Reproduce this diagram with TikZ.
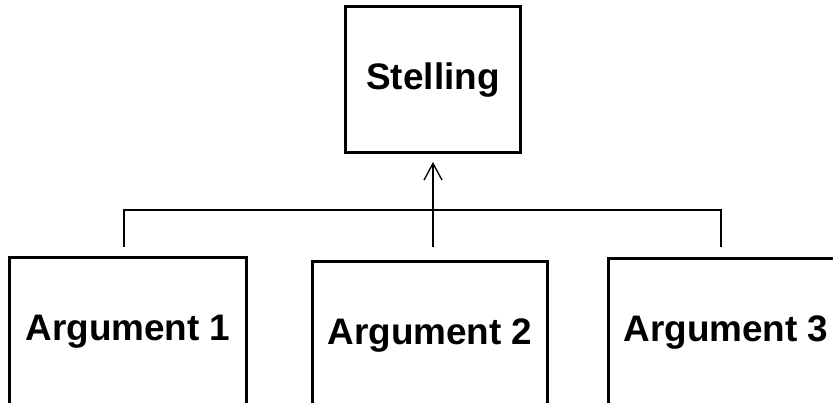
\documentclass[tikz,border=0pt]{standalone}
\usepackage{fontspec}
\setmainfont{Liberation Sans}
\usetikzlibrary{arrows.meta}
\tikzset{
  kader/.style={draw, line width=0.09cm, inner sep=0pt,
    font=\fontsize{31.5}{36}\selectfont\bfseries, align=center},
  lijn/.style={line width=0.04cm}
}
\begin{document}
\begin{tikzpicture}[x=0.03cm, y=-0.03cm]
                    \useasboundingbox (0,0) rectangle (833,403);
                    \clip (0,0) rectangle (833,403);
                    \node[kader, minimum width=5.22cm, minimum height=4.38cm] (stelling) at (433,80) {Stelling};

                    \node[kader, minimum width=7.08cm, minimum height=4.44cm] (arg1) at (128,332) {Argument 1};
                    \node[kader, minimum width=7.02cm, minimum height=4.44cm] (arg2) at (430,336) {Argument 2};
                    \node[kader, minimum width=7.08cm, minimum height=4.44cm] (arg3) at (726,333) {Argument 3};

                    \coordinate (top1) at (124,247);
                    \coordinate (top2) at (433,247);
                    \coordinate (top3) at (721,247);
                    \coordinate (pijl) at (433,162);
                    \draw[lijn] (top1) -- ++(0,-37) -| (top3);
                    \draw[lijn, -{Straight Barb[length=0.5cm, width=0.54cm]}] (top2) -- (pijl);
                \end{tikzpicture}
\end{document}
